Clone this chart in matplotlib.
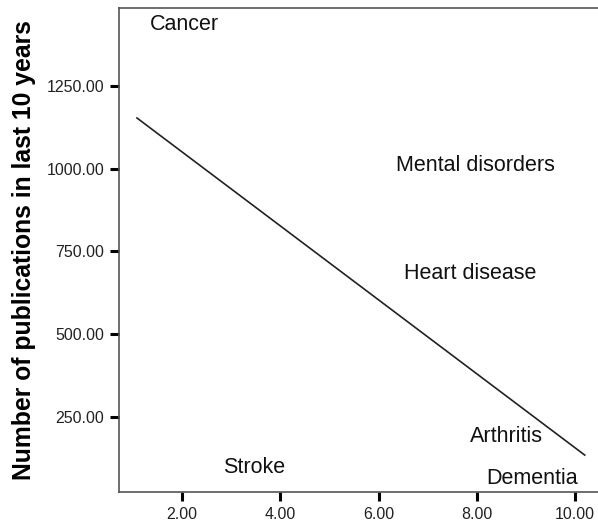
import matplotlib
matplotlib.use('Agg')
import matplotlib.pyplot as plt

plt.rcParams['font.family'] = ['Liberation Sans', 'DejaVu Sans']

# Disease labels placed at their (rank, publications) positions
diseases = ["Cancer", "Mental disorders", "Heart disease", "Arthritis", "Dementia", "Stroke"]
rank = [2.04, 7.98, 7.86, 8.61, 9.12, 3.47]
publications = [1434, 1011, 682, 190, 63, 96]

# Fitted regression line end points
fit_x = [1.08, 10.2]
fit_y = [1153, 135]

x_ticks = [2, 4, 6, 8, 10]
y_ticks = [250, 500, 750, 1000, 1250]

fig = plt.figure(figsize=(5.98, 5.24), dpi=100)
ax = fig.add_axes([0.199, 0.061, 0.801, 0.924])

ax.plot(fit_x, fit_y, color='#222222', linewidth=1.2)
for name, x, y in zip(diseases, rank, publications):
    ax.text(x, y, name, ha='center', va='center', fontsize=15.5, color='#111111')

ax.set_xlim(0.714, 10.47)
ax.set_ylim(23.4, 1485.6)
ax.set_xticks(x_ticks)
ax.set_xticklabels([f"{v:.2f}" for v in x_ticks])
ax.set_yticks(y_ticks)
ax.set_yticklabels([f"{v:.2f}" for v in y_ticks])
ax.tick_params(direction='out', length=6.5, width=2.2, color='black',
               labelsize=11.5, labelcolor='#222222', pad=4)

for side in ['left', 'bottom', 'top']:
    ax.spines[side].set_color('#555555')
    ax.spines[side].set_linewidth(1.2)
ax.spines['right'].set_visible(False)

ax.set_ylabel('Number of publications in last 10 years', fontsize=17.8,
              fontweight='bold', labelpad=8)

fig.savefig('out.png', dpi=100)
